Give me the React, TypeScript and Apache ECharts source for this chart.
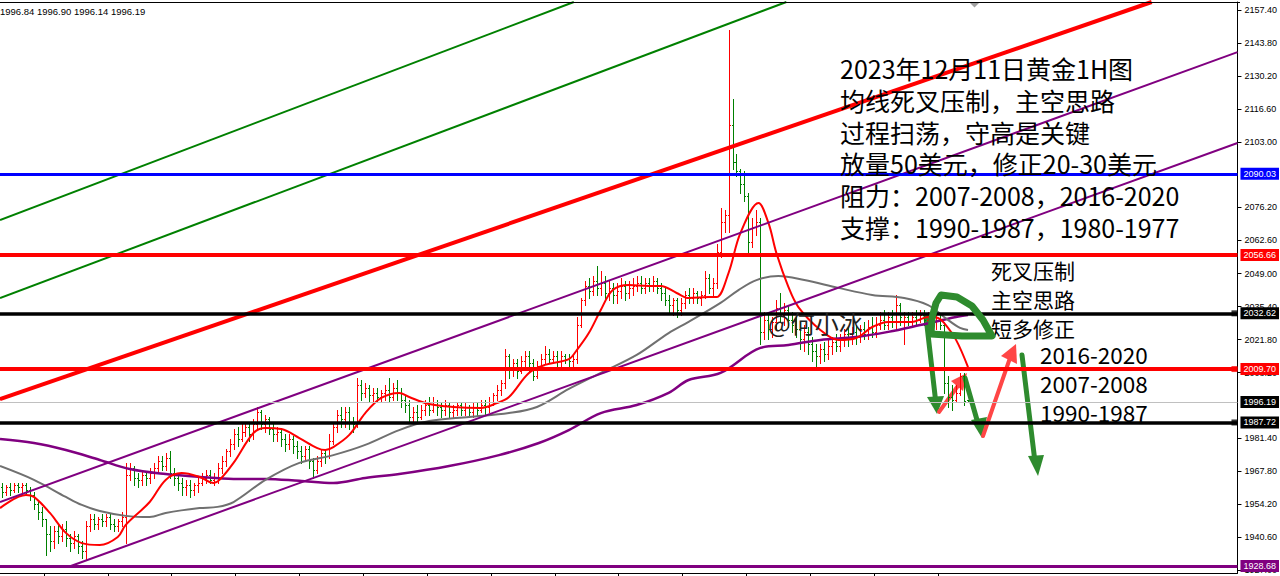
import React, { useEffect, useRef } from "react";
import * as echarts from "echarts";

// XAUUSD 1H bars: [open, close, low, high]
const bars: number[][] = [
  [1961, 1959, 1957, 1963], [1959, 1961, 1958, 1962], [1961, 1960, 1958, 1963], [1960, 1962, 1959, 1963],
  [1962, 1961, 1959, 1963], [1961, 1962, 1958, 1963], [1962, 1960, 1958, 1963], [1960, 1958, 1956, 1961],
  [1958, 1954, 1952, 1959], [1954, 1951, 1948, 1956], [1951, 1948, 1945, 1953], [1948, 1942, 1933, 1948],
  [1942, 1939, 1935, 1945], [1939, 1943, 1936, 1945], [1943, 1941, 1938, 1946], [1941, 1944, 1939, 1946],
  [1944, 1940, 1937, 1947], [1940, 1938, 1935, 1942], [1938, 1941, 1936, 1943], [1941, 1937, 1934, 1942],
  [1937, 1935, 1932, 1939], [1935, 1945, 1931, 1947], [1945, 1948, 1943, 1950], [1948, 1946, 1944, 1950],
  [1946, 1948, 1944, 1949], [1948, 1947, 1945, 1950], [1947, 1949, 1945, 1950], [1949, 1946, 1944, 1950],
  [1946, 1945, 1943, 1948], [1945, 1947, 1943, 1948], [1947, 1949, 1945, 1951], [1949, 1966, 1938, 1971],
  [1966, 1969, 1964, 1971], [1969, 1965, 1962, 1970], [1965, 1964, 1961, 1967], [1964, 1966, 1962, 1968],
  [1966, 1965, 1962, 1967], [1965, 1967, 1963, 1969], [1967, 1969, 1965, 1971], [1969, 1972, 1967, 1974],
  [1972, 1970, 1968, 1974], [1970, 1973, 1968, 1975], [1973, 1967, 1965, 1976], [1967, 1965, 1962, 1969],
  [1965, 1963, 1960, 1967], [1963, 1961, 1958, 1965], [1961, 1962, 1958, 1964], [1962, 1960, 1957, 1964],
  [1960, 1962, 1958, 1963], [1962, 1963, 1959, 1965], [1963, 1965, 1962, 1967], [1965, 1966, 1963, 1968],
  [1966, 1964, 1963, 1968], [1964, 1965, 1962, 1967], [1965, 1969, 1963, 1971], [1969, 1972, 1967, 1974],
  [1972, 1976, 1970, 1977], [1976, 1979, 1974, 1981], [1979, 1983, 1977, 1985], [1983, 1981, 1978, 1986],
  [1981, 1984, 1980, 1987], [1984, 1986, 1982, 1988], [1986, 1983, 1980, 1988], [1983, 1987, 1981, 1989],
  [1987, 1992, 1985, 1994], [1992, 1987, 1985, 1993], [1987, 1989, 1984, 1991], [1989, 1985, 1983, 1990],
  [1985, 1983, 1980, 1987], [1983, 1984, 1980, 1986], [1984, 1981, 1978, 1985], [1981, 1979, 1976, 1983],
  [1979, 1981, 1977, 1983], [1981, 1978, 1975, 1982], [1978, 1976, 1973, 1980], [1976, 1974, 1971, 1978],
  [1974, 1977, 1972, 1978], [1977, 1972, 1969, 1978], [1972, 1968, 1965, 1973], [1968, 1972, 1967, 1974],
  [1972, 1975, 1970, 1977], [1975, 1974, 1971, 1977], [1974, 1980, 1973, 1983], [1980, 1986, 1979, 1988],
  [1986, 1991, 1984, 1993], [1991, 1989, 1986, 1994], [1989, 1992, 1986, 1994], [1992, 1988, 1985, 1994],
  [1988, 1987, 1984, 1990], [1987, 2003, 1986, 2006], [2003, 2000, 1997, 2005], [2000, 2002, 1998, 2004],
  [2002, 1999, 1996, 2003], [1999, 2000, 1996, 2002], [2000, 1998, 1996, 2002], [1998, 2000, 1996, 2001],
  [2000, 2001, 1997, 2003], [2001, 1998, 1996, 2006], [1998, 2002, 1997, 2004], [2002, 2000, 1997, 2005],
  [2000, 1997, 1994, 2002], [1997, 1995, 1992, 1999], [1995, 1990, 1988, 1997], [1990, 1992, 1988, 1994],
  [1992, 1990, 1988, 1995], [1990, 1993, 1989, 1995], [1993, 1995, 1991, 1997], [1995, 1993, 1991, 1998],
  [1993, 1996, 1992, 1998], [1996, 1994, 1991, 1997], [1994, 1993, 1990, 1996], [1993, 1995, 1991, 1997],
  [1995, 1992, 1990, 1996], [1992, 1993, 1990, 1995], [1993, 1995, 1991, 1996], [1995, 1993, 1991, 1996],
  [1993, 1994, 1991, 1996], [1994, 1992, 1990, 1995], [1992, 1994, 1990, 1996], [1994, 1993, 1991, 1996],
  [1993, 1995, 1992, 1997], [1995, 1994, 1991, 1997], [1994, 1996, 1992, 1998], [1996, 1999, 1995, 2000],
  [1999, 2001, 1997, 2003], [2001, 2004, 1999, 2005], [2004, 2015, 2002, 2018], [2015, 2010, 2006, 2016],
  [2010, 2012, 2007, 2014], [2012, 2009, 2006, 2014], [2009, 2013, 2008, 2015], [2013, 2015, 2010, 2017],
  [2015, 2012, 2009, 2017], [2012, 2007, 2005, 2014], [2007, 2011, 2006, 2013], [2011, 2014, 2010, 2016],
  [2014, 2016, 2012, 2019], [2016, 2014, 2012, 2018], [2014, 2015, 2012, 2017], [2015, 2013, 2011, 2017],
  [2013, 2015, 2011, 2017], [2015, 2014, 2012, 2016], [2014, 2013, 2011, 2016], [2013, 2014, 2011, 2016],
  [2014, 2028, 2012, 2031], [2028, 2038, 2027, 2039], [2038, 2044, 2036, 2046], [2044, 2042, 2039, 2047],
  [2042, 2046, 2040, 2048], [2046, 2043, 2040, 2052], [2043, 2045, 2040, 2050], [2045, 2041, 2038, 2048],
  [2041, 2043, 2038, 2046], [2043, 2040, 2037, 2045], [2040, 2042, 2037, 2045], [2042, 2044, 2039, 2047],
  [2044, 2041, 2038, 2046], [2041, 2043, 2039, 2046], [2043, 2044, 2040, 2047], [2044, 2045, 2042, 2048],
  [2045, 2043, 2041, 2048], [2043, 2045, 2041, 2047], [2045, 2044, 2042, 2047], [2044, 2046, 2042, 2048],
  [2046, 2043, 2041, 2047], [2043, 2041, 2038, 2045], [2041, 2038, 2036, 2043], [2038, 2036, 2033, 2040],
  [2036, 2038, 2032, 2039], [2038, 2034, 2031, 2039], [2034, 2037, 2032, 2039], [2037, 2040, 2035, 2042],
  [2040, 2039, 2037, 2043], [2039, 2041, 2037, 2043], [2041, 2039, 2037, 2042], [2039, 2040, 2036, 2042],
  [2040, 2047, 2039, 2050], [2047, 2043, 2041, 2049], [2043, 2045, 2040, 2047], [2045, 2058, 2043, 2061],
  [2058, 2070, 2056, 2076], [2070, 2073, 2066, 2075], [2073, 2110, 2066, 2149], [2110, 2095, 2092, 2121],
  [2095, 2091, 2089, 2098], [2091, 2086, 2082, 2092], [2086, 2081, 2079, 2091], [2081, 2062, 2058, 2082],
  [2062, 2068, 2060, 2072], [2068, 2070, 2065, 2075], [2070, 2025, 2020, 2072], [2025, 2030, 2022, 2033],
  [2030, 2026, 2022, 2033], [2026, 2029, 2023, 2031], [2029, 2035, 2026, 2038], [2035, 2032, 2029, 2041],
  [2032, 2034, 2028, 2037], [2034, 2030, 2027, 2036], [2030, 2028, 2025, 2033], [2028, 2026, 2023, 2031],
  [2026, 2022, 2018, 2029], [2022, 2025, 2017, 2028], [2025, 2020, 2016, 2027], [2020, 2017, 2013, 2023],
  [2017, 2015, 2010.5, 2020], [2015, 2018, 2012, 2020], [2018, 2016, 2013, 2021], [2016, 2019, 2014, 2022],
  [2019, 2021, 2016, 2023], [2021, 2019, 2017, 2024], [2019, 2022, 2017, 2024], [2022, 2024, 2019, 2026],
  [2024, 2022, 2019, 2027], [2022, 2025, 2020, 2027], [2025, 2023, 2020, 2028], [2023, 2026, 2021, 2028],
  [2026, 2024, 2022, 2029], [2024, 2027, 2022, 2030], [2027, 2025, 2023, 2031], [2025, 2028, 2023, 2031],
  [2028, 2030, 2026, 2033], [2030, 2028, 2026, 2034], [2028, 2031, 2026, 2033], [2031, 2029, 2027, 2034],
  [2029, 2036, 2026, 2040], [2036, 2031, 2028, 2037], [2029, 2031, 2020, 2033], [2031, 2029, 2028, 2033],
  [2029, 2031, 2028, 2033], [2031, 2030, 2028, 2034], [2030, 2032, 2029, 2034], [2032, 2030, 2028, 2034],
  [2030, 2031, 2028, 2033], [2031, 2029, 2027, 2033], [2029, 2030, 2026, 2032], [2030, 2028, 2026, 2032],
  [2028, 2004, 2000, 2029], [2004, 1998, 1994, 2007], [1998, 1997, 1993, 2003], [1997, 2000, 1996, 2003],
  [2000, 2007, 1999, 2008], [2007, 1996.5, 1995, 2008], [1996.84, 1996.19, 1996.14, 1996.9],
];

const ohlcHeader = ["1996.84", "1996.90", "1996.14", "1996.19"];

// price-scale labels that MT4 shows (the ones under the price boxes are mostly covered)
const yTicks = [
  2157.4, 2143.8, 2130.2, 2116.6, 2103.0, 2076.2, 2062.6, 2049.0, 2035.4, 2021.8,
  2008.2, 1981.4, 1967.8, 1954.2, 1940.6, 1927.0,
];
const xTickBars = [10.5, 26.5, 42.5, 58.5, 74.5, 90.5, 106.5, 122.5, 138.5, 154.5, 170.5, 186.5, 202.5, 218.5, 234.5];

// moving averages: [bar index, price]
const redMA = [
  [-0.5, 1952.5], [6, 1957.9], [8, 1957.1], [12, 1950.5], [16, 1942.3], [20, 1938.1], [24.5, 1937.3],
  [29, 1940.6], [31, 1945.6], [37, 1955.0], [41, 1964.1], [45, 1966.9], [49.5, 1965.3], [53, 1962.8],
  [54.5, 1964.1], [58, 1971.1], [63, 1983.4], [66, 1985.5], [70, 1985.0], [74.5, 1981.3], [79, 1977.2],
  [81, 1976.4], [83, 1977.6], [87, 1982.6], [91, 1991.6], [95, 1997.8], [99.5, 1999.9], [102, 1998.2],
  [107, 1995.3], [113, 1994.1], [120, 1993.7], [124, 1995.7], [127, 1998.2], [132, 2008.1], [136, 2011.4],
  [142, 2013.8], [144, 2017.5], [147, 2024.5], [150, 2034.0], [153, 2042.2], [157, 2044.3], [162, 2043.9],
  [165, 2043.9], [169, 2041.0], [172, 2038.9], [177, 2039.3], [179, 2039.3], [182, 2049.2], [185, 2065.7],
  [189.5, 2078.0], [192, 2069.8], [194, 2057.4], [197, 2043.5], [199.5, 2035.2], [205, 2025.8],
  [209.5, 2021.7], [214, 2022.5], [218, 2027.0], [222, 2029.1], [228, 2029.1], [232, 2031.1],
  [234.5, 2030.7], [236, 2028.7], [239, 2021.7], [242, 2010.5],
];
const grayMA = [
  [-0.5, 1969.8], [8, 1964.1], [16, 1957.1], [20, 1953.8], [24.5, 1951.3], [31, 1949.3], [37, 1948.8],
  [41, 1950.5], [49.5, 1952.5], [54, 1953.0], [58, 1955.0], [66, 1964.1], [74.5, 1971.1], [83, 1974.3],
  [91, 1978.5], [99.5, 1984.6], [107, 1988.3], [117, 1990.0], [127, 1991.6], [134, 1994.1], [142, 2001.5],
  [150, 2008.1], [159, 2015.5], [167, 2024.5], [172, 2029.1], [180, 2036.9], [184.5, 2042.2], [189, 2046.3],
  [194.5, 2048.0], [201, 2046.3], [209.5, 2043.1], [218, 2040.2], [226, 2038.9], [232, 2036.0],
  [236, 2031.1], [240, 2026.6], [242, 2025.8],
];
const purpleMA = [
  [-0.5, 1980.9], [8, 1979.3], [16, 1976.4], [24.5, 1972.3], [32, 1968.6], [41, 1966.5], [49.5, 1965.3],
  [58, 1964.5], [66, 1964.5], [74.5, 1963.7], [83, 1962.8], [91, 1964.9], [99.5, 1966.5], [112, 1969.8],
  [124.5, 1974.3], [134.5, 1979.3], [142, 1984.6], [150, 1991.6], [159, 1994.9], [167, 1999.9],
  [172, 2005.2], [180, 2008.1], [190, 2018.4], [197, 2019.6], [205, 2021.7], [214, 2022.9], [222, 2025.0],
  [230, 2027.8], [239, 2031.1], [242, 2031.9],
];

// trend lines: [bar index, price] anchor points
const greenLine1 = [[-0.5, 2071.0], [143.25, 2160.7]];
const greenLine2 = [[-0.5, 2038.9], [196.5, 2160.7]];
const redTrend = [[-0.5, 1997.3], [288, 2160.7]];
const purpleUpper = [[-0.5, 1955.0], [309.5, 2140.1]];
const purpleLower = [[17.25, 1928.7], [309.5, 2102.7]];

// horizontal levels
const levelPrices = [2090.03, 2056.66, 2032.62, 2009.7, 1996.19, 1987.72, 1928.68];
// levels that carry a price-tag square at the scale
const taggedLevels = [2032.62, 2009.7, 1987.72];

const noteLines = [
  "2023年12月11日黄金1H图",
  "均线死叉压制，主空思路",
  "过程扫荡，守高是关键",
  "放量50美元，修正20-30美元",
  "阻力：2007-2008，2016-2020",
  "支撑：1990-1987，1980-1977",
];
const sideNotes = ["死叉压制", "主空思路", "短多修正"];
const levelNotes = ["2016-2020", "2007-2008", "1990-1987"];
const watermark = "@何小冰";

const levelStyles = [
  { color: "#0000ff", width: 3, box: "#0000ff" },
  { color: "#ff0000", width: 4, box: "#ff0000" },
  { color: "#000000", width: 3.5, box: "#000000" },
  { color: "#ff0000", width: 4, box: "#ff0000" },
  { color: "#c0c0c0", width: 1, box: "#000000" },
  { color: "#000000", width: 3.5, box: "#000000" },
  { color: "#800080", width: 3, box: "#800080" },
];
const tagColors = ["#000000", "#ff0000", "#000000"];

const AXIS_FONT = "'Liberation Sans', Arial, sans-serif";
const CJK_FONT = "'Noto Sans CJK SC', sans-serif";
const GREEN_PEN = "#2e8b2e";
const RED_PEN = "#ff4646";

const renderBar = (_params: any, api: any) => {
  const i = api.value(0);
  const o = api.value(1);
  const c = api.value(2);
  const l = api.value(3);
  const h = api.value(4);
  const ph = api.coord([i, h]);
  const pl = api.coord([i, l]);
  const po = api.coord([i, o]);
  const pc = api.coord([i, c]);
  const x = Math.round(ph[0]) + 0.5;
  const color = c >= o ? "#ff0000" : "#008000";
  const st = { stroke: color, lineWidth: 1 };
  const yo = Math.round(po[1]) + 0.5;
  const yc = Math.round(pc[1]) + 0.5;
  return {
    type: "group",
    children: [
      { type: "line", shape: { x1: x, y1: Math.round(ph[1]), x2: x, y2: Math.round(pl[1]) + 1 }, style: st },
      { type: "line", shape: { x1: x - 1.5, y1: yo, x2: x, y2: yo }, style: st },
      { type: "line", shape: { x1: x, y1: yc, x2: x + 1.5, y2: yc }, style: st },
    ],
  };
};

const lineSeries = (name: string, data: number[][], color: string, width: number, smooth: number, z: number) => ({
  type: "line",
  name,
  data,
  smooth,
  showSymbol: false,
  symbol: "none",
  silent: true,
  clip: true,
  z,
  lineStyle: { color, width },
});

const arrow = (line: number[][], head: number[][], color: string, width: number) => ({
  type: "group",
  children: [
    {
      type: "polyline",
      shape: { points: line },
      style: { stroke: color, lineWidth: width, fill: null, lineCap: "round" },
    },
    { type: "polygon", shape: { points: head }, style: { fill: color } },
  ],
});

const buildOption = () => {
  const graphics: any[] = [];
  graphics.push({ type: "line", shape: { x1: 0, y1: 2.5, x2: 1240, y2: 2.5 }, style: { stroke: "#000", lineWidth: 1 }, z: 20 });
  graphics.push({ type: "polygon", shape: { points: [[970, 3], [979, 3], [974.5, 7.5]] }, style: { fill: "#a0a0a0" }, z: 20 });
  graphics.push({
    type: "text", x: 0, y: 11, z: 20,
    style: { text: ohlcHeader.join(" "), fill: "#000", fontSize: 9.5, fontFamily: AXIS_FONT, verticalAlign: "middle" },
  });
  noteLines.forEach((t, k) => {
    graphics.push({
      type: "text", x: 840, y: 68.3 + k * 31.7, z: 20,
      style: { text: t, fill: "#000", fontSize: 25, fontFamily: CJK_FONT, verticalAlign: "middle" },
    });
  });
  sideNotes.forEach((t, k) => {
    graphics.push({
      type: "text", x: 991, y: 270 + k * 29, z: 20,
      style: { text: t, fill: "#000", fontSize: 21, fontFamily: CJK_FONT, verticalAlign: "middle" },
    });
  });
  levelNotes.forEach((t, k) => {
    graphics.push({
      type: "text", x: 1040, y: 354 + k * 28.8, z: 20,
      style: { text: t, fill: "#000", fontSize: 22.5, fontFamily: CJK_FONT, verticalAlign: "middle" },
    });
  });
  graphics.push({
    type: "text", x: 768, y: 322, z: 20,
    style: { text: watermark, fill: "#222", fontSize: 24, fontFamily: CJK_FONT, verticalAlign: "middle" },
  });
  // hand-drawn loop
  graphics.push({
    type: "polyline", z: 21,
    shape: {
      points: [[931, 334], [932, 318], [936, 303], [941, 295], [957, 297], [972, 306], [983, 320], [992, 336], [962, 336], [931, 334]],
    },
    style: { stroke: GREEN_PEN, lineWidth: 7, fill: null, lineJoin: "round", lineCap: "round" },
  });
  graphics.push({ ...arrow([[926, 317], [936, 404]], [[927, 397], [937, 414], [944, 396]], GREEN_PEN, 5), z: 21 });
  graphics.push({ ...arrow([[939, 412], [960, 383]], [[951, 381], [967, 373], [963, 391]], RED_PEN, 4), z: 21 });
  graphics.push({ ...arrow([[965, 378], [979, 427]], [[971, 420], [982, 438], [987, 417]], GREEN_PEN, 5), z: 21 });
  graphics.push({ ...arrow([[983, 436], [1010, 358]], [[1001, 356], [1016, 344], [1017, 364]], RED_PEN, 4), z: 21 });
  graphics.push({ ...arrow([[1022, 355], [1035, 462]], [[1028, 456], [1038, 476], [1044, 455]], GREEN_PEN, 5), z: 21 });

  const levelMarks = levelPrices.map((v, k) => {
    const s = levelStyles[k];
    return {
      yAxis: v,
      lineStyle: { color: s.color, width: s.width, type: "solid" },
      label: {
        show: true,
        position: "end",
        distance: 3,
        formatter: v.toFixed(2),
        backgroundColor: s.box,
        color: "#fff",
        fontSize: 9,
        fontFamily: AXIS_FONT,
        padding: [2, 3, 1, 3],
      },
    };
  });

  return {
    animation: false,
    backgroundColor: "#ffffff",
    grid: { left: 0, right: 40, top: 2, bottom: 3, containLabel: false },
    xAxis: {
      type: "value",
      min: -0.5,
      max: 309.5,
      axisLine: { show: true, onZero: false, lineStyle: { color: "#000", width: 1 } },
      axisTick: { show: true, customValues: xTickBars, length: 3, lineStyle: { color: "#000" } },
      axisLabel: { show: false },
      splitLine: { show: false },
    },
    yAxis: {
      type: "value",
      position: "right",
      min: 1925.8,
      max: 2160.7,
      axisLine: { show: true, onZero: false, lineStyle: { color: "#000", width: 1 } },
      axisTick: { show: true, customValues: yTicks, length: 4, inside: false, lineStyle: { color: "#000" } },
      axisLabel: {
        show: true,
        customValues: yTicks,
        formatter: (v: number) => v.toFixed(2),
        color: "#000",
        fontSize: 9,
        fontFamily: AXIS_FONT,
        margin: 7,
      },
      splitLine: { show: false },
    },
    graphic: graphics,
    series: [
      {
        type: "custom",
        name: "bars",
        renderItem: renderBar,
        data: bars.map((b, i) => [i, b[0], b[1], b[2], b[3]]),
        encode: { x: 0, y: [1, 2, 3, 4] },
        silent: true,
        clip: true,
        z: 2,
      },
      lineSeries("MA purple", purpleMA, "#800080", 2.5, 0.35, 3),
      lineSeries("MA gray", grayMA, "#707070", 2, 0.35, 3),
      lineSeries("MA red", redMA, "#ff0000", 2, 0.35, 3),
      lineSeries("green 1", greenLine1, "#008000", 2, 0, 4),
      lineSeries("green 2", greenLine2, "#008000", 2, 0, 4),
      lineSeries("red trend", redTrend, "#ff0000", 4, 0, 4),
      lineSeries("purple lower", purpleLower, "#800080", 2, 0, 4),
      {
        ...lineSeries("purple upper", purpleUpper, "#800080", 2, 0, 4),
        markLine: { silent: true, symbol: ["none", "none"], animation: false, data: levelMarks },
      },
      {
        type: "scatter",
        name: "price tags",
        data: taggedLevels.map((v, k) => ({ value: [309.5, v], itemStyle: { color: tagColors[k] } })),
        symbol: "rect",
        symbolSize: 6,
        symbolOffset: [-3, 0],
        silent: true,
        clip: false,
        z: 5,
      },
    ],
  };
};

export default function App() {
  const ref = useRef<HTMLDivElement>(null);
  useEffect(() => {
    document.body.style.margin = "0";
    const chart = echarts.init(ref.current as HTMLDivElement, null, { renderer: "svg" });
    chart.setOption(buildOption() as any);
    return () => chart.dispose();
  }, []);
  return <div ref={ref} style={{ width: 1280, height: 576, background: "#fff" }} />;
}
